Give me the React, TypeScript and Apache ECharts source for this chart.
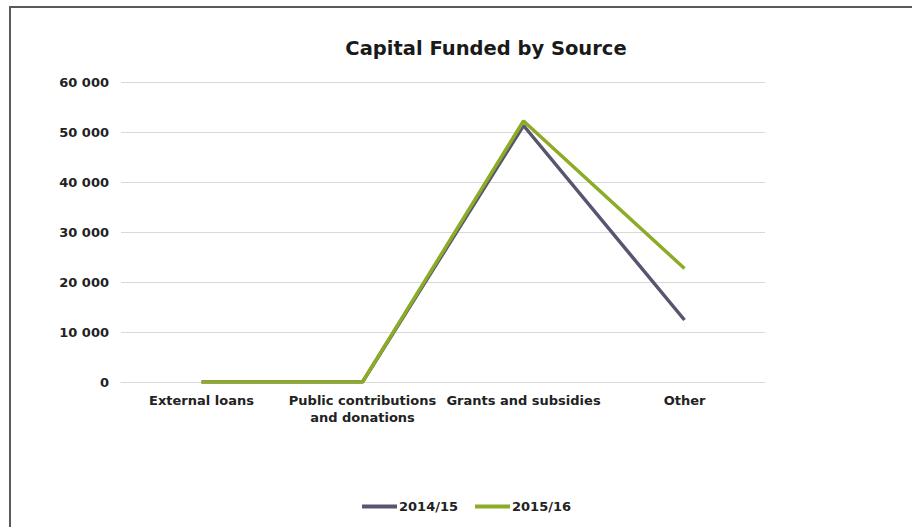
import React, { useEffect, useRef } from "react";
import * as echarts from "echarts";

const categories = [
  "External loans",
  "Public contributions and donations",
  "Grants and subsidies",
  "Other",
];
const series2014 = [0, 0, 51300, 12400];
const series2015 = [0, 0, 52200, 22700];
const seriesNames = ["2014/15", "2015/16"];
const yTicks = [0, 10000, 20000, 30000, 40000, 50000, 60000];

const FONT = "'DejaVu Sans', sans-serif";

export default function App() {
  const ref = useRef<HTMLDivElement>(null);
  useEffect(() => {
    if (!ref.current) return;
    const chart = echarts.init(ref.current, undefined, { renderer: "svg" });
    chart.setOption({
      animation: false,
      backgroundColor: "#ffffff",
      textStyle: { fontFamily: FONT },
      title: {
        text: "Capital Funded by Source",
        left: 481,
        top: 33,
        textAlign: "center",
        textStyle: { fontFamily: FONT, fontSize: 19.5, fontWeight: "bold", color: "#1a1a1a" },
      },
      legend: {
        data: seriesNames,
        left: 357,
        top: 495,
        itemWidth: 35,
        itemHeight: 4,
        itemGap: 17,
        icon: "rect",
        textStyle: { fontFamily: FONT, fontSize: 13, fontWeight: "bold", color: "#222", padding: [0, 0, 0, -3] },
      },
      grid: { left: 121, right: 912 - 765, top: 82, bottom: 527 - 382, containLabel: false },
      xAxis: {
        type: "category",
        data: categories,
        boundaryGap: true,
        axisLine: { show: true, lineStyle: { color: "#d9d9d9", width: 1 } },
        axisTick: { show: false },
        axisLabel: {
          interval: 0,
          margin: 10,
          fontFamily: FONT,
          fontSize: 13,
          fontWeight: "bold",
          color: "#222",
          lineHeight: 17,
          formatter: (v: string) =>
            v === "Public contributions and donations" ? "Public contributions\nand donations" : v,
        },
      },
      yAxis: {
        type: "value",
        min: yTicks[0],
        max: yTicks[yTicks.length - 1],
        interval: 10000,
        axisLine: { show: false },
        axisTick: { show: false },
        splitLine: { lineStyle: { color: "#d9d9d9", width: 1 } },
        axisLabel: {
          margin: 12,
          fontFamily: FONT,
          fontSize: 13,
          fontWeight: "bold",
          color: "#222",
          formatter: (v: number) => String(v).replace(/\B(?=(\d{3})+(?!\d))/g, " "),
        },
      },
      series: [
        {
          name: seriesNames[0],
          type: "line",
          data: series2014,
          symbol: "none",
          lineStyle: { color: "#575570", width: 3.5 },
          itemStyle: { color: "#575570" },
        },
        {
          name: seriesNames[1],
          type: "line",
          data: series2015,
          symbol: "none",
          lineStyle: { color: "#8cac28", width: 3.5 },
          itemStyle: { color: "#8cac28" },
        },
      ],
      graphic: [
        {
          type: "rect",
          shape: { x: 10, y: 7, width: 1000, height: 700 },
          style: { fill: "none", stroke: "#5a5a5a", lineWidth: 2 },
          silent: true,
        },
      ],
    });
    return () => chart.dispose();
  }, []);
  return (
    <div
      ref={ref}
      style={{ position: "fixed", left: 0, top: 0, width: 912, height: 527 }}
    />
  );
}
